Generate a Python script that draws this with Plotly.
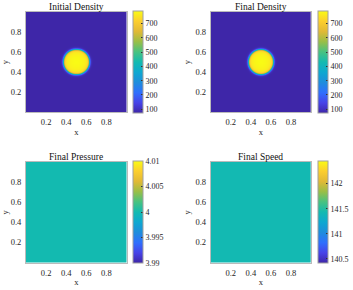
import numpy as np
import plotly.graph_objects as go

# ---- data ----
titles = ["Initial Density", "Final Density", "Final Pressure", "Final Speed"]
n_grid = 100
circle_center = (0.5, 0.5)
circle_radius = 0.125
edge_width = 0.012
rho_outside = 70.0
rho_inside = 740.0
pressure_value = 4.0
speed_value = 141.42
density_range = [70, 785]
pressure_range = [3.99, 4.01]
speed_range = [140.42, 142.45]
density_ticks = [100, 200, 300, 400, 500, 600, 700]
pressure_ticks = [3.99, 3.995, 4, 4.005, 4.01]
pressure_ticklabels = ["3.99", "3.995", "4", "4.005", "4.01"]
speed_ticks = [140.5, 141, 141.5, 142]
axis_ticks = [0.2, 0.4, 0.6, 0.8]

xs = (np.arange(n_grid) + 0.5) / n_grid
ys = (np.arange(n_grid) + 0.5) / n_grid
X, Y = np.meshgrid(xs, ys)
R = np.sqrt((X - circle_center[0]) ** 2 + (Y - circle_center[1]) ** 2)
dome = 1 + 0.06 * np.clip(1 - (R / circle_radius) ** 2, 0, 1)
rho = rho_outside + (rho_inside * dome - rho_outside) * 0.5 * (1 - np.tanh((R - circle_radius) / edge_width))
pressure = np.full_like(X, pressure_value)
speed = np.full_like(X, speed_value)

parula = [
    [0.0, "#3e26a8"], [0.1, "#4743e8"], [0.2, "#2f6ffd"], [0.3, "#1e8ddc"],
    [0.4, "#0ea8d0"], [0.5, "#13bab0"], [0.6, "#48c280"], [0.7, "#9abe46"],
    [0.8, "#e1b936"], [0.9, "#fcce2e"], [1.0, "#f9fb15"],
]

W, H = 353, 290
font = "Liberation Serif"
txt = "#262626"

def px_x(a, b):
    return [a / W, b / W]

def px_y(top, bot):
    return [1 - bot / H, 1 - top / H]

panels = [
    dict(z=rho, rng=density_range, ticks=density_ticks, labels=None,
         xd=px_x(26, 126.5), yd=px_y(12, 112), cbx=132.7, cby=(11.5, 113.5)),
    dict(z=rho, rng=density_range, ticks=density_ticks, labels=None,
         xd=px_x(210.7, 311), yd=px_y(12, 112), cbx=317.7, cby=(11.5, 113.5)),
    dict(z=pressure, rng=pressure_range, ticks=pressure_ticks, labels=pressure_ticklabels,
         xd=px_x(26, 126.5), yd=px_y(162, 262.5), cbx=132.7, cby=(161, 263)),
    dict(z=speed, rng=speed_range, ticks=speed_ticks, labels=None,
         xd=px_x(210.7, 311), yd=px_y(162, 262.5), cbx=317.7, cby=(161, 263)),
]

fig = go.Figure()
layout = {}
annotations = []
for i, p in enumerate(panels):
    k = "" if i == 0 else str(i + 1)
    cb = dict(
        x=p["cbx"] / W, xanchor="left", xref="paper",
        y=1 - (p["cby"][0] + p["cby"][1]) / 2 / H, yanchor="middle", yref="paper",
        len=(p["cby"][1] - p["cby"][0]) / H, lenmode="fraction",
        thickness=10, thicknessmode="pixels",
        outlinewidth=1, outlinecolor="#a0a0a0",
        ticks="inside", ticklen=2, tickcolor="#333",
        tickvals=p["ticks"],
        tickfont=dict(family=font, size=8, color=txt),
        xpad=0, ypad=0,
    )
    if p["labels"] is not None:
        cb["ticktext"] = p["labels"]
    fig.add_trace(go.Heatmap(
        x=xs, y=ys, z=p["z"], colorscale=parula, zmin=p["rng"][0], zmax=p["rng"][1],
        colorbar=cb, xaxis="x" + k, yaxis="y" + k, hoverinfo="skip",
    ))
    layout["xaxis" + k] = dict(
        domain=p["xd"], range=[0, 1], anchor="y" + k, tickvals=axis_ticks,
        tickfont=dict(family=font, size=8.5, color=txt), showgrid=False, zeroline=False,
        showline=True, linecolor="#bbbbbb", linewidth=1, mirror=True, ticks="", ticklen=0,
        ticklabelstandoff=2,
        title=dict(text="x", font=dict(family=font, size=8.5, color=txt), standoff=2),
    )
    layout["yaxis" + k] = dict(
        domain=p["yd"], range=[0, 1], anchor="x" + k, tickvals=axis_ticks,
        tickfont=dict(family=font, size=8.5, color=txt), showgrid=False, zeroline=False,
        showline=True, linecolor="#bbbbbb", linewidth=1, mirror=True, ticks="", ticklen=0,
        ticklabelstandoff=2,
        title=dict(text="y", font=dict(family=font, size=8.5, color=txt), standoff=3),
    )
    annotations.append(dict(
        text=titles[i], x=(p["xd"][0] + p["xd"][1]) / 2, y=p["yd"][1], xref="paper", yref="paper",
        xanchor="center", yanchor="bottom", showarrow=False, yshift=-2,
        font=dict(family=font, size=9.5, color="#111"),
    ))

fig.update_layout(
    width=W, height=H, margin=dict(l=0, r=0, t=0, b=0),
    paper_bgcolor="white", plot_bgcolor="white", showlegend=False,
    annotations=annotations, **layout,
)
fig.write_html(
    "out.html",
    config={"displayModeBar": False, "staticPlot": True},
    post_script="document.body.style.margin='0px';document.body.style.overflow='hidden';",
)
